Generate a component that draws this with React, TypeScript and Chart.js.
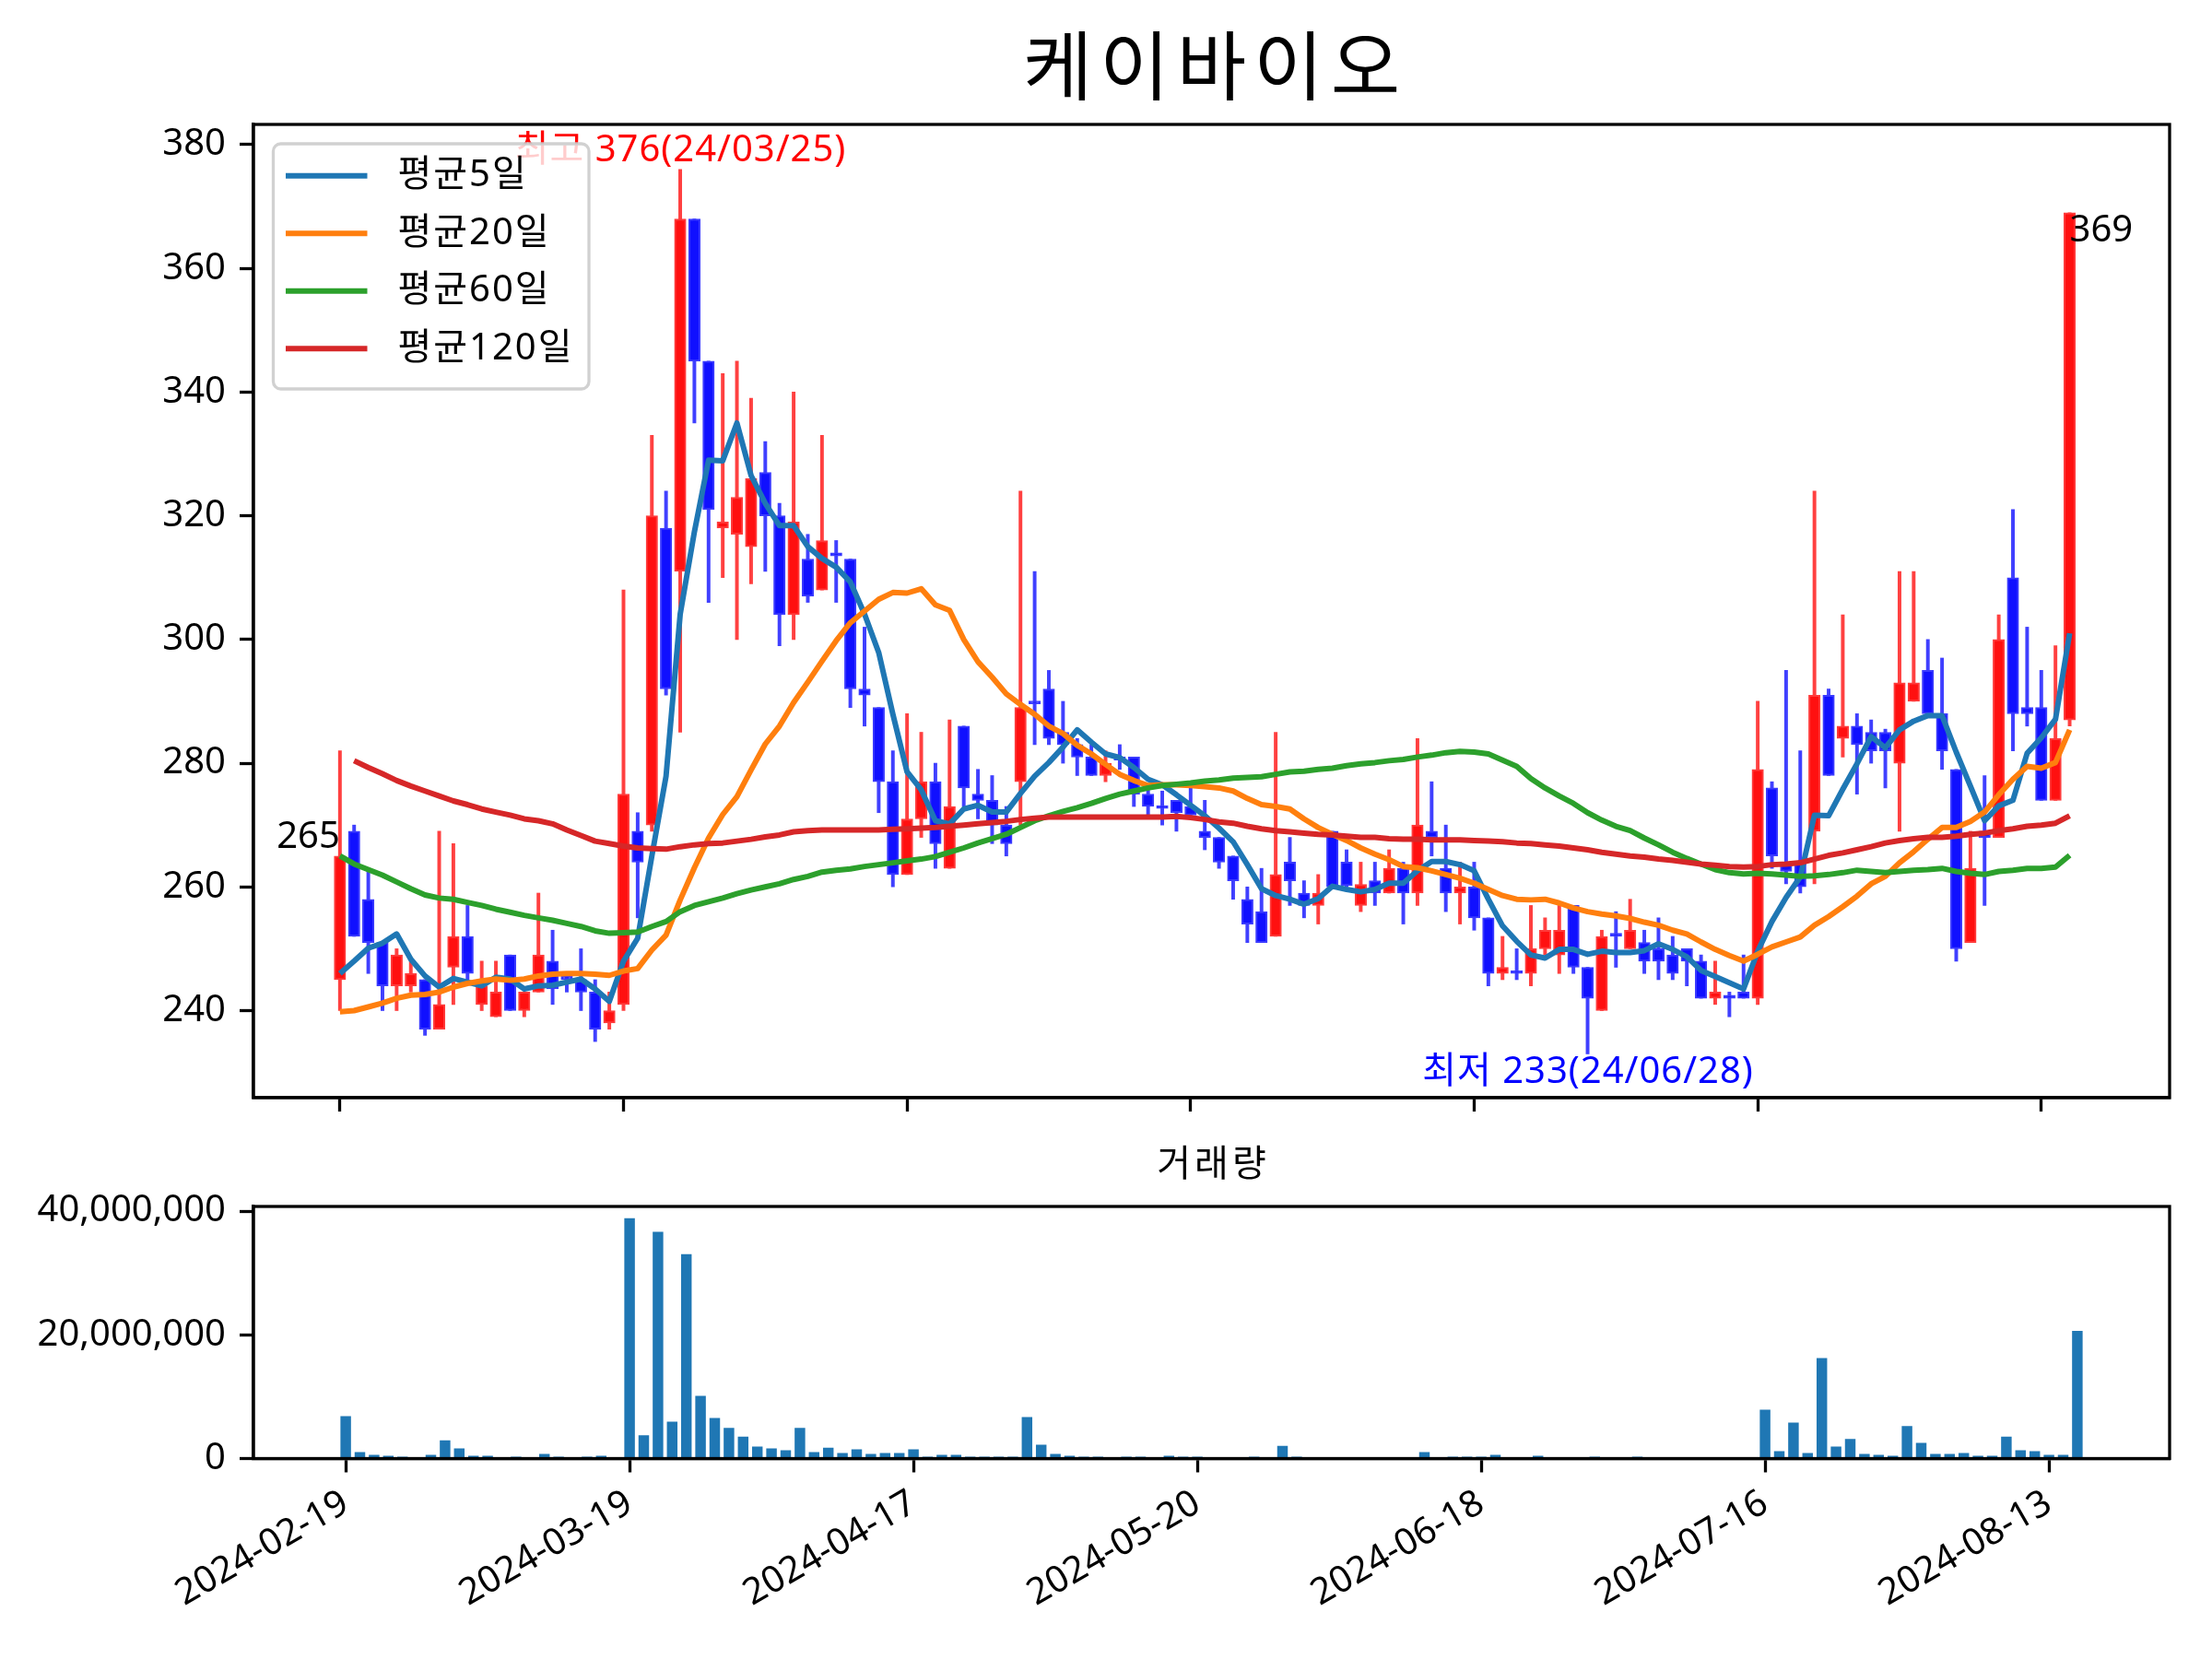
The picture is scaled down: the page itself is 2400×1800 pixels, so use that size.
import { useEffect, useRef } from 'react'
import { Chart, registerables } from 'chart.js'

Chart.register(...registerables)

const FONT = "'Noto Sans', 'Noto Sans CJK KR', sans-serif"
Chart.defaults.font.family = FONT

const TITLE = '케이바이오'
const VOLUME_TITLE = '거래량'
const TICK_IDX = [0, 20, 40, 60, 80, 100, 120]
const TICK_DATES = ['2024-02-19', '2024-03-19', '2024-04-17', '2024-05-20', '2024-06-18', '2024-07-16', '2024-08-13']
const PRICE_TICKS = [240, 260, 280, 300, 320, 340, 360, 380]
const VOLUME_TICKS = [0, 20000000, 40000000]
const HIGH_NOTE = '최고 376(24/03/25)'
const LOW_NOTE = '최저 233(24/06/28)'

// one entry per trading day, 2024-02-19 .. 2024-08-16
const OPEN = [
  245, 269, 258, 251, 244, 244, 245, 237, 247, 252, 241, 239, 249, 240, 243, 248, 245.6, 245, 243, 238,
  241, 269, 270, 318, 311, 368, 345, 318, 317, 315, 327, 320, 304, 313, 308, 314, 313, 292, 289, 277,
  262, 271, 277, 263, 286, 275, 274, 270, 277, 290, 292, 285, 283, 281, 278, 281, 281, 275, 273, 274,
  273, 269, 268, 265, 258, 256, 252, 264, 259, 257, 269, 264, 257, 261, 259, 263, 259, 269, 263, 259,
  260, 255, 246, 246.4, 246, 250, 249, 257, 247, 240, 252.5, 250, 251, 250, 249, 250, 248, 242, 242.5, 243,
  242, 276, 264, 264, 269, 291, 284, 286, 285, 285, 280, 290, 295, 288, 279, 251, 269, 268, 310, 289,
  289, 274, 287,
]
const HIGH = [
  282, 270, 263, 251, 250, 248, 245, 269, 267, 257, 248, 248, 249, 243, 259, 253, 246, 250, 245, 243,
  308, 272, 333, 324, 376, 368, 345, 343, 345, 339, 332, 322, 340, 317, 333, 316, 313, 302, 289, 282,
  288, 285, 280, 287, 286, 279, 278, 273, 324, 311, 295, 290, 284, 283, 282, 283, 281, 276, 275.5, 274,
  276, 274, 268, 265, 260, 263, 285, 268, 261, 262, 269, 266, 264, 264, 266, 264, 284, 277, 270, 264,
  264, 255, 252, 250, 257, 255, 257, 257, 247, 253, 256, 258, 253, 255, 252, 250, 249, 248, 243, 249,
  290, 277, 295, 282, 324, 292, 304, 288, 287, 285.5, 311, 311, 300, 297, 279, 269, 278, 304, 321, 302,
  295, 299, 369,
]
const LOW = [
  240, 252, 246, 240, 240, 243, 236, 237, 241, 245, 240, 239, 240, 239, 243, 241, 243, 240, 235, 237,
  240, 255, 269, 291, 285, 335, 306, 310, 300, 309, 311, 299, 300, 306, 308, 306, 289, 286, 272, 260,
  262, 268, 263, 263, 273, 271, 267, 265, 270, 283, 283, 280, 278, 278, 277, 279, 273, 271.5, 270, 269,
  271, 266, 263, 258, 251, 251, 252, 257, 255, 254, 260, 260, 256, 257, 259, 254, 257, 265, 256, 254,
  253, 244, 245, 245, 244, 249, 246, 246, 233, 240, 247, 250, 246, 245, 245, 244, 242, 241, 239, 242,
  241, 263, 260.5, 259, 260.5, 278, 281, 275, 280, 276, 269, 290, 288, 279, 248, 251, 257, 268, 282, 286,
  274, 274, 286,
]
const CLOSE = [
  265, 252, 251, 244, 249, 246, 237, 241, 252, 246, 244, 243, 240, 243, 249, 243.5, 245, 243, 237, 240,
  275, 264, 320, 292, 368, 345, 321, 319, 323, 326, 320, 304, 319, 307, 316, 313.5, 292, 291, 277, 262,
  271, 277, 267, 273, 276, 274, 270, 267, 289, 289.6, 284, 283, 281, 278, 280, 280.5, 275, 273, 272.7, 272,
  271.6, 268, 264, 261, 254, 251, 262, 261, 257, 259, 260, 260.2, 260.4, 259, 263, 259, 270, 268, 259, 260,
  255, 246, 247, 246, 250, 253, 253, 247, 242, 252, 252, 253, 248, 248, 246, 248, 242, 243, 242, 242,
  279, 265, 262.5, 260, 291, 278, 286, 283, 282, 282, 293, 293, 288, 282, 250, 263, 268, 300, 288, 288,
  274, 284, 369,
]
const VOLUME = [
  6800000, 1000000, 550000, 400000, 250000, 100000, 550000, 2900000, 1600000, 400000,
  400000, 50000, 250000, 50000, 700000, 250000, 50000, 250000, 400000, 50000,
  38800000, 3700000, 36600000, 5900000, 33000000, 10100000, 6500000, 4900000, 3500000, 1900000,
  1600000, 1300000, 4900000, 1000000, 1700000, 850000, 1450000, 700000, 850000, 850000,
  1450000, 250000, 550000, 550000, 250000, 250000, 250000, 250000, 6650000, 2200000,
  700000, 400000, 250000, 250000, 50000, 250000, 250000, 50000, 400000, 250000,
  250000, 50000, 50000, 50000, 250000, 50000, 2000000, 250000, 50000, 50000,
  50000, 50000, 50000, 50000, 50000, 50000, 1000000, 50000, 250000, 250000,
  250000, 550000, 50000, 50000, 400000, 50000, 50000, 50000, 250000, 50000,
  50000, 250000, 50000, 50000, 50000, 50000, 50000, 50000, 50000, 50000,
  7850000, 1150000, 5750000, 850000, 16200000, 1900000, 3100000, 700000, 550000, 400000,
  5200000, 2500000, 700000, 700000, 850000, 400000, 400000, 3500000, 1300000, 1150000,
  550000, 550000, 20600000,
]
const MA5 = [
  246, 248, 250.1, 250.9, 252.4, 248.3, 245.6, 243.8, 245.2, 244.6, 244, 245.4, 245.1, 243.5, 244, 244.1, 244.6, 245.1, 243.5, 241.5,
  248, 251.7, 265, 277.9, 304.1, 317.4, 329, 328.9, 335, 326.5, 322, 318.4, 318.4, 315, 313.1, 311.7, 309.3, 304.1, 297.9, 287.9,
  278.6, 275.7, 270.7, 270.2, 272.6, 273.2, 272.1, 272.1, 275.1, 277.9, 280.1, 282.6, 285.4, 283.4, 281.5, 280.9, 279.3, 277.4, 276.5, 274.9,
  273.2, 271.5, 269.5, 267.3, 263.6, 259.7, 258.6, 258, 257.2, 258.1, 260.1, 259.6, 259.2, 259.6, 260.6, 260.6, 262.6, 264.1, 264.1, 263.6,
  262.6, 258, 253.7, 251.2, 249, 248.5, 249.9, 249.9, 249.1, 249.6, 249.4, 249.4, 249.7, 250.8, 249.9, 248.7, 246.5, 245.5, 244.5, 243.5,
  249.6, 254.4, 258.3, 261.6, 271.6, 271.5, 275.8, 279.9, 284.3, 282.5, 285.4, 286.8, 287.7, 287.7, 281.8, 276.3, 270.7, 273.1, 274, 281.6,
  284.1, 287.1, 301,
]
const MA20 = [
  239.8, 240, 240.6, 241.2, 242, 242.5, 242.6, 243, 243.8, 244.4, 244.8, 245.1, 244.9, 245.1, 245.6, 245.9, 246, 246, 245.9, 245.7,
  246.4, 246.8, 249.8, 252.2, 257.9, 263.1, 267.9, 271.7, 274.6, 278.9, 283.1, 286, 289.8, 293.1, 296.5, 299.8, 302.7, 304.6, 306.5, 307.6,
  307.5, 308.2, 305.6, 304.7, 300, 296.4, 293.9, 291.2, 289.5, 287.9, 286, 284.8, 282.9, 281.5, 279.8, 278.2, 277.2, 276.4, 276.5, 276.5,
  276.4, 276.2, 276, 275.5, 274.3, 273.3, 273, 272.6, 271, 269.6, 268.5, 267.5, 266.3, 265.3, 264.4, 263.3, 263.1, 262.6, 262, 261.4,
  260.6, 259.6, 258.6, 258, 257.9, 258, 257.4, 256.6, 256, 255.6, 255.3, 254.9, 254.3, 253.8, 253, 252.4, 251.1, 249.9, 248.9, 248,
  249.1, 250.3, 251.1, 251.9, 253.8, 255.2, 256.8, 258.5, 260.5, 261.7, 263.9, 265.7, 267.7, 269.6, 269.6, 270.6, 272.1, 274.9, 277.4, 279.5,
  279.2, 280.1, 285.4,
]
const MA60 = [
  265, 263.7, 262.8, 261.9, 260.8, 259.7, 258.7, 258.2, 258, 257.5, 257, 256.4, 255.9, 255.4, 255, 254.6, 254.1, 253.6, 252.9, 252.5,
  252.6, 252.7, 253.6, 254.4, 256, 257, 257.6, 258.2, 258.9, 259.5, 260, 260.5, 261.2, 261.7, 262.4, 262.7, 262.9, 263.3, 263.6, 263.9,
  264.2, 264.5, 264.9, 265.6, 266.3, 267.1, 267.8, 268.5, 269.6, 270.7, 271.5, 272.2, 272.8, 273.5, 274.3, 275, 275.5, 276, 276.4, 276.6,
  276.8, 277.1, 277.3, 277.6, 277.7, 277.8, 278.2, 278.6, 278.7, 279, 279.2, 279.6, 279.9, 280.1, 280.4, 280.6, 281, 281.3, 281.7, 281.9,
  281.8, 281.5, 280.5, 279.5, 277.5, 276, 274.7, 273.5, 272, 270.8, 269.8, 269.1, 267.9, 266.8, 265.6, 264.6, 263.7, 262.8, 262.3, 262.1,
  262.2, 262.1, 261.9, 261.7, 261.8, 262, 262.3, 262.7, 262.5, 262.3, 262.5, 262.7, 262.8, 263, 262.5, 262.2, 262, 262.5, 262.7, 263,
  263, 263.2, 265.1,
]
const MA120 = [
  null, 280.4, 279.3, 278.3, 277.2, 276.3, 275.5, 274.7, 273.9, 273.3, 272.6, 272.1, 271.6, 271, 270.7, 270.2, 269.2, 268.3, 267.4, 267,
  266.6, 266.3, 266.2, 266.1, 266.5, 266.8, 267, 267.1, 267.4, 267.7, 268.1, 268.4, 268.9, 269.1, 269.2, 269.2, 269.2, 269.2, 269.2, 269.3,
  269.4, 269.5, 269.6, 269.8, 270, 270.2, 270.4, 270.6, 270.9, 271.1, 271.3, 271.3, 271.3, 271.3, 271.3, 271.3, 271.3, 271.3, 271.3, 271.4,
  271.2, 270.9, 270.5, 270.3, 269.8, 269.4, 269.1, 268.9, 268.7, 268.5, 268.4, 268.2, 268, 268, 267.8, 267.7, 267.7, 267.6, 267.6, 267.6,
  267.5, 267.4, 267.3, 267.1, 267, 266.8, 266.6, 266.3, 266, 265.6, 265.3, 265, 264.8, 264.5, 264.3, 264, 263.7, 263.5, 263.3, 263.2,
  263.3, 263.6, 263.7, 263.9, 264.5, 265.1, 265.5, 266, 266.5, 267.1, 267.5, 267.8, 268, 268, 268.2, 268.5, 268.7, 269.1, 269.4, 269.8,
  270, 270.3, 271.5,
]
const MA_LABELS = ['평균5일', '평균20일', '평균60일', '평균120일']
const MA_SERIES = [MA5, MA20, MA60, MA120]
const MA_COLORS = ['#1f77b4', '#ff7f0e', '#2ca02c', '#d62728']

const isUp = (i: number) => CLOSE[i] >= OPEN[i]
const days = CLOSE.map((_, i) => i)

// text with a bit of letter spacing, to get closer to the wider Korean font of the original
function spacedText(ctx: any, text: string, x: number, y: number, spacing: number, align: CanvasTextAlign) {
  ctx.letterSpacing = `${spacing}px`
  ctx.textAlign = align
  const shift = align === 'center' ? spacing / 2 : align === 'right' ? spacing : 0
  ctx.fillText(text, x + shift, y)
  ctx.letterSpacing = '0px'
}

// plain black frame round the plot area, like matplotlib spines
const framePlugin = {
  id: 'frame',
  afterDraw(chart: any) {
    const { ctx, chartArea: a } = chart
    ctx.save()
    ctx.strokeStyle = '#000'
    ctx.lineWidth = 3.3
    ctx.strokeRect(a.left, a.top, a.right - a.left, a.bottom - a.top)
    ctx.restore()
  },
}

const headingPlugin = (text: string, size: number, yCenter: number, spacing: number) => ({
  id: 'heading',
  afterDraw(chart: any) {
    const { ctx, chartArea: a } = chart
    ctx.save()
    ctx.font = `${size}px ${FONT}`
    ctx.fillStyle = '#000'
    ctx.textBaseline = 'middle'
    spacedText(ctx, text, (a.left + a.right) / 2, yCenter, spacing, 'center')
    ctx.restore()
  },
})

const notesPlugin = {
  id: 'notes',
  afterDatasetsDraw(chart: any) {
    const { ctx, scales: { x, y } } = chart
    const hi = HIGH.indexOf(Math.max(...HIGH))
    const lo = LOW.indexOf(Math.min(...LOW))
    const last = CLOSE.length - 1
    const put = (text: string, i: number, v: number, color: string, align: CanvasTextAlign, base: CanvasTextBaseline, sp: number) => {
      ctx.fillStyle = color
      ctx.textBaseline = base
      spacedText(ctx, text, x.getPixelForValue(i), y.getPixelForValue(v), sp, align)
    }
    ctx.save()
    ctx.font = `40px ${FONT}`
    put(HIGH_NOTE, hi, HIGH[hi], '#ff0000', 'center', 'bottom', 1)
    put(LOW_NOTE, lo, LOW[lo], '#0000ff', 'center', 'top', 1)
    put(String(CLOSE[0]), 0, CLOSE[0], '#000', 'right', 'bottom', 0)
    put(String(CLOSE[last]), last, CLOSE[last], '#000', 'left', 'top', 0)
    ctx.restore()
  },
}

const legendPlugin = {
  id: 'maLegend',
  afterDraw(chart: any) {
    const { ctx, chartArea: a } = chart
    const x0 = a.left + 21.5
    const y0 = a.top + 21
    ctx.save()
    ctx.beginPath()
    ctx.roundRect(x0, y0, 342.5, 266, 8)
    ctx.fillStyle = 'rgba(255,255,255,0.8)'
    ctx.fill()
    ctx.strokeStyle = 'rgba(204,204,204,0.9)'
    ctx.lineWidth = 3.3
    ctx.stroke()
    ctx.font = `40px ${FONT}`
    ctx.textBaseline = 'middle'
    MA_LABELS.forEach((label, i) => {
      const yy = y0 + 34.7 + i * 62.5
      ctx.beginPath()
      ctx.moveTo(x0 + 13.5, yy)
      ctx.lineTo(x0 + 102, yy)
      ctx.strokeStyle = MA_COLORS[i]
      ctx.lineWidth = 6
      ctx.stroke()
      ctx.fillStyle = '#000'
      spacedText(ctx, label, x0 + 135, yy, 2, 'left')
    })
    ctx.restore()
  },
}

const axisLook = {
  grid: { drawOnChartArea: false, drawTicks: true, tickLength: 15, tickWidth: 3.3, tickColor: '#000', offset: false },
  border: { display: true, color: '#000', width: 3.3 },
}

function priceConfig(): any {
  return {
    type: 'bar',
    data: {
      datasets: [
        ...MA_SERIES.map((s, k) => ({
          type: 'line',
          label: MA_LABELS[k],
          data: days.map((i) => ({ x: i, y: s[i] })),
          borderColor: MA_COLORS[k],
          borderWidth: 6,
          pointRadius: 0,
          borderJoinStyle: 'round',
          order: 4 - k,
        })),
        {
          label: 'body',
          data: days.map((i) => ({ x: i, y: [OPEN[i], CLOSE[i]] })),
          backgroundColor: days.map((i) => (isUp(i) ? '#ff1010' : '#1010ff')),
          borderColor: days.map((i) => (isUp(i) ? '#ff3a3a' : '#3a3aff')),
          borderWidth: 2,
          borderSkipped: false,
          barThickness: 12.5,
          minBarLength: 3,
          grouped: false,
          order: 10,
        },
        {
          label: 'wick',
          data: days.map((i) => ({ x: i, y: [LOW[i], HIGH[i]] })),
          backgroundColor: days.map((i) => (isUp(i) ? '#ff4040' : '#4040ff')),
          barThickness: 3.3,
          grouped: false,
          order: 11,
        },
      ],
    },
    options: {
      animation: false,
      responsive: false,
      devicePixelRatio: 1,
      events: [],
      layout: { padding: { left: 0, right: 46, top: 135, bottom: 0 }, autoPadding: false },
      plugins: { legend: { display: false }, tooltip: { enabled: false } },
      scales: {
        x: {
          type: 'linear',
          min: -6.1,
          max: 129.05,
          offset: false,
          afterBuildTicks: (s: any) => { s.ticks = TICK_IDX.map((v) => ({ value: v })) },
          afterFit: (s: any) => { s.height = 38.5 },
          ticks: { display: false },
          ...axisLook,
        },
        y: {
          type: 'linear',
          min: 225.92,
          max: 383.27,
          afterBuildTicks: (s: any) => { s.ticks = PRICE_TICKS.map((v) => ({ value: v })) },
          afterFit: (s: any) => { s.width = 275 },
          ticks: { color: '#000', font: { family: FONT, size: 40 }, padding: 15 },
          ...axisLook,
        },
      },
    },
    plugins: [notesPlugin, framePlugin, legendPlugin, headingPlugin(TITLE, 82, 79, 8)],
  }
}

function volumeConfig(): any {
  return {
    type: 'bar',
    data: {
      datasets: [
        {
          label: VOLUME_TITLE,
          data: days.map((i) => ({ x: i, y: VOLUME[i] })),
          backgroundColor: '#1f77b4',
          barThickness: 10.8,
          grouped: false,
        },
      ],
    },
    options: {
      animation: false,
      responsive: false,
      devicePixelRatio: 1,
      events: [],
      layout: { padding: { left: 0, right: 46, top: 79, bottom: 0 }, autoPadding: false },
      plugins: { legend: { display: false }, tooltip: { enabled: false } },
      scales: {
        x: {
          type: 'linear',
          min: -6.5,
          max: 128.5,
          offset: false,
          afterBuildTicks: (s: any) => { s.ticks = TICK_IDX.map((v) => ({ value: v })) },
          afterFit: (s: any) => { s.height = 217.5 },
          ticks: {
            color: '#000',
            font: { family: FONT, size: 40 },
            padding: 10,
            autoSkip: false,
            minRotation: 30,
            maxRotation: 30,
            callback: (v: number) => TICK_DATES[TICK_IDX.indexOf(v)] ?? '',
          },
          ...axisLook,
        },
        y: {
          type: 'linear',
          min: 0,
          max: 40750000,
          afterBuildTicks: (s: any) => { s.ticks = VOLUME_TICKS.map((v) => ({ value: v })) },
          afterFit: (s: any) => { s.width = 275 },
          ticks: {
            color: '#000',
            font: { family: FONT, size: 40 },
            padding: 15,
            callback: (v: number) => Number(v).toLocaleString('en-US'),
          },
          ...axisLook,
        },
      },
    },
    plugins: [framePlugin, headingPlugin(VOLUME_TITLE, 40, 35, 4)],
  }
}

export default function App() {
  const priceRef = useRef<HTMLCanvasElement>(null)
  const volumeRef = useRef<HTMLCanvasElement>(null)

  useEffect(() => {
    if (!priceRef.current || !volumeRef.current) return
    const price = new Chart(priceRef.current, priceConfig())
    const volume = new Chart(volumeRef.current, volumeConfig())
    return () => { price.destroy(); volume.destroy() }
  }, [])

  return (
    <div style={{ position: 'absolute', left: 0, top: 0, width: 2400, height: 1800, background: '#fff' }}>
      <canvas ref={priceRef} width={2400} height={1230} style={{ position: 'absolute', left: 0, top: 0, width: 2400, height: 1230 }} />
      <canvas ref={volumeRef} width={2400} height={570} style={{ position: 'absolute', left: 0, top: 1230, width: 2400, height: 570 }} />
    </div>
  )
}
